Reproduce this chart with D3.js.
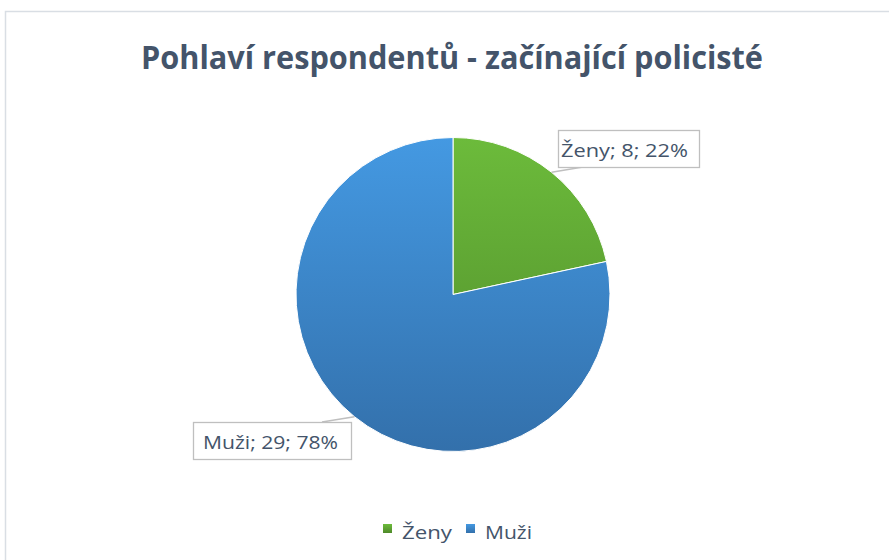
<!DOCTYPE html>
<html>
<head>
<meta charset="utf-8">
<script src="https://cdn.jsdelivr.net/npm/d3@7"></script>
<style>
  body { margin: 0; background: #fff; }
  text { font-family: "Open Sans", "Noto Sans", sans-serif; fill: #44546a; }
</style>
</head>
<body>
<div id="drawArea"></div>
<script>
// data
var categories = ["Ženy", "Muži"];
var counts = [8, 29];
var percents = ["22%", "78%"];
var titleText = "Pohlaví respondentů - začínající policisté";

var width = 889, height = 560;
var cx = 453, cy = 294.5, radius = 157;

var svg = d3.select("#drawArea").append("svg")
  .attr("width", width).attr("height", height);

// gradients per slice (light on top, darker at bottom), in the pie group's coords
var grads = [["#6cbb3b", "#4f8a2a"], ["#4499e2", "#3370ab"]];
var defs = svg.append("defs");
grads.forEach(function(g, i) {
  var lg = defs.append("linearGradient").attr("id", "g" + i)
    .attr("gradientUnits", "userSpaceOnUse")
    .attr("x1", 0).attr("y1", -radius).attr("x2", 0).attr("y2", radius);
  lg.append("stop").attr("offset", "0%").attr("stop-color", g[0]);
  lg.append("stop").attr("offset", "100%").attr("stop-color", g[1]);
  var lg2 = defs.append("linearGradient").attr("id", "lg" + i)
    .attr("x1", 0).attr("y1", 0).attr("x2", 0).attr("y2", 1);
  lg2.append("stop").attr("offset", "0%").attr("stop-color", g[0]);
  lg2.append("stop").attr("offset", "100%").attr("stop-color", g[1]);
});

// chart frame
svg.append("rect")
  .attr("x", 5.5).attr("y", 11.5).attr("width", 900).attr("height", 600)
  .attr("fill", "none").attr("stroke", "#d9dee4").attr("stroke-width", 1.5);

// title
svg.append("text")
  .attr("x", 452).attr("y", 68.5)
  .attr("text-anchor", "middle")
  .attr("font-size", 33).attr("font-weight", "bold")
  .attr("textLength", 622).attr("lengthAdjust", "spacingAndGlyphs")
  .text(titleText);

var data = categories.map(function(c, i) { return {cat: c, n: counts[i], pct: percents[i], i: i}; });

var pie = d3.pie().sort(null).value(function(d) { return d.n; });
var arc = d3.arc().innerRadius(0).outerRadius(radius);
var arcs = pie(data);

var g = svg.append("g").attr("transform", "translate(" + cx + "," + cy + ")");
g.selectAll("path").data(arcs).enter().append("path")
  .attr("d", arc)
  .attr("fill", function(d) { return "url(#g" + d.data.i + ")"; })
  .attr("stroke", "#fff").attr("stroke-width", 1);

// data labels with boxes and leader lines
var boxes = [
  {x: 558, y: 130, w: 141, h: 37, tx: 561, ty: 157, tl: 127, lx: 583, ly: 167},
  {x: 193, y: 422, w: 158, h: 37, tx: 203, ty: 448.5, tl: 135, lx: 322, ly: 422}
];

arcs.forEach(function(a, i) {
  var b = boxes[i];
  var mid = (a.startAngle + a.endAngle) / 2;
  var px = cx + radius * Math.sin(mid), py = cy - radius * Math.cos(mid);
  svg.append("line")
    .attr("x1", px).attr("y1", py).attr("x2", b.lx).attr("y2", b.ly)
    .attr("stroke", "#bfbfbf").attr("stroke-width", 1.5);
  svg.append("rect")
    .attr("x", b.x + 0.5).attr("y", b.y + 0.5).attr("width", b.w).attr("height", b.h)
    .attr("fill", "#fff").attr("stroke", "#bfbfbf").attr("stroke-width", 1.3);
  svg.append("text")
    .attr("x", b.tx).attr("y", b.ty)
    .attr("font-size", 18)
    .attr("textLength", b.tl).attr("lengthAdjust", "spacingAndGlyphs")
    .text(a.data.cat + "; " + a.data.n + "; " + a.data.pct);
});

// legend
var legendX = [383, 466];
var legendW = [50, 47];
var leg = svg.selectAll(".leg").data(data).enter().append("g").attr("class", "leg");
leg.append("rect")
  .attr("x", function(d) { return legendX[d.i]; }).attr("y", 524)
  .attr("width", 9).attr("height", 9)
  .attr("fill", function(d) { return "url(#lg" + d.i + ")"; });
leg.append("text")
  .attr("x", function(d) { return legendX[d.i] + 19; }).attr("y", 538.5)
  .attr("font-size", 18)
  .attr("textLength", function(d) { return legendW[d.i]; })
  .attr("lengthAdjust", "spacingAndGlyphs")
  .text(function(d) { return d.cat; });
</script>
</body>
</html>
